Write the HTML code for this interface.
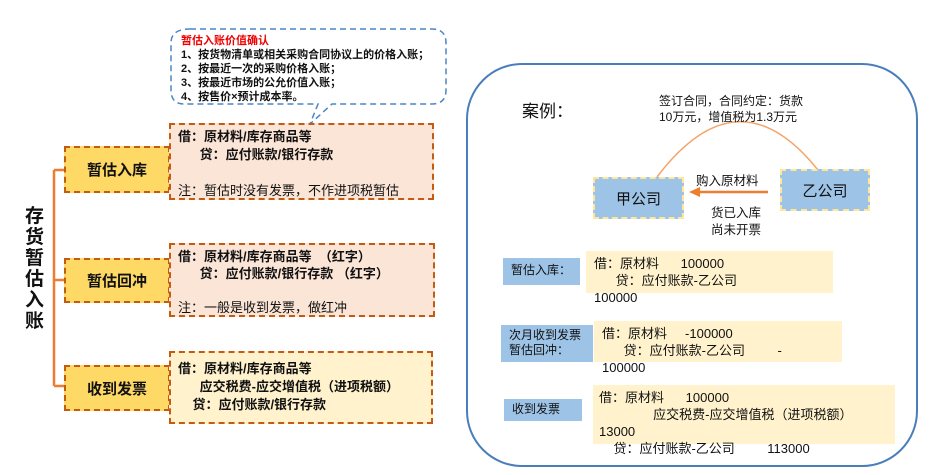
<!DOCTYPE html>
<html><head><meta charset="utf-8">
<style>
body{margin:0;width:935px;height:475px;background:#fff;position:relative;overflow:hidden;font-family:"Liberation Sans","Noto Sans CJK SC",sans-serif;color:#111}
.a{position:absolute;box-sizing:border-box}
.lb{background:#ffd966;border:2.5px dashed #c55a11;font-weight:bold;font-size:15px;display:flex;align-items:center;justify-content:center}
.rb{background:#fbe5d6;border:2.5px dashed #c55a11;font-size:13px;line-height:18px;padding:3px 0 0 7px;white-space:pre}
.t{position:absolute;white-space:pre}
.blue{background:#9dc3e6;font-size:12px;line-height:15px}
.y{background:#fff2cc}
.c{font-size:13px;line-height:17px}
</style></head><body>
<svg class="a" style="left:0;top:0" width="935" height="475">
<path d="M54 170 V386 M54 170 H65 M54 280 H65 M54 386 H65" stroke="#ed7d31" stroke-width="2.5" fill="none"/>
<path d="M190 29 H432 Q446 29 446 43 V90 Q446 104 432 104 H332 L310 124 L318 104 H184 Q171 104 171 90 V43 Q171 29 190 29 Z" fill="#fff" stroke="#4a86c5" stroke-width="1.5" stroke-dasharray="6,4"/>
<rect x="467" y="64" width="450" height="402" rx="55" fill="none" stroke="#4a7ebb" stroke-width="2"/>
<path d="M657 177 Q738 70 818 170" fill="none" stroke="#f4a46a" stroke-width="1.5"/>
<path d="M768 192 H698" stroke="#ed7d31" stroke-width="2.5"/>
<path d="M689 192 L700 187 L700 197 Z" fill="#ed7d31"/>
</svg>
<div class="t" style="left:181px;top:34px;font-size:11px;line-height:14px;font-weight:bold"><span style="color:#e00">暂估入账价值确认</span>
1、按货物清单或相关采购合同协议上的价格入账；
2、按最近一次的采购价格入账；
3、按最近市场的公允价值入账；
4、按售价×预计成本率。</div>
<div class="t" style="left:25px;top:206px;font-size:19px;line-height:21px;font-weight:bold">存
货
暂
估
入
账</div>
<div class="a lb" style="left:64px;top:146px;width:106px;height:47px">暂估入库</div>
<div class="a rb" style="left:169px;top:123px;width:265px;height:77px"><b>借：原材料/库存商品等
      贷：应付账款/银行存款</b>

注：暂估时没有发票，不作进项税暂估</div>
<div class="a lb" style="left:64px;top:258px;width:106px;height:45px">暂估回冲</div>
<div class="a rb" style="left:169px;top:243px;width:266px;height:74px;line-height:17px"><b>借：原材料/库存商品等  （红字）
      贷：应付账款/银行存款 （红字）</b>

注：一般是收到发票，做红冲</div>
<div class="a lb" style="left:64px;top:365px;width:106px;height:46px">收到发票</div>
<div class="a rb" style="left:169px;top:351px;width:264px;height:73px;background:#fff2cc;padding-top:7px"><b>借：原材料/库存商品等
      应交税费-应交增值税（进项税额）
    贷：应付账款/银行存款</b></div>

<div class="t" style="left:522px;top:97px;font-size:17px">案例：</div>
<div class="t" style="left:659px;top:93px;font-size:12px;line-height:16px">签订合同，合同约定：货款
10万元，增值税为1.3万元</div>
<div class="a" style="left:593px;top:177px;width:91px;height:42px;background:#9dc3e6;border:2px dashed #ffe699;font-size:15px;display:flex;align-items:center;justify-content:center">甲公司</div>
<div class="a" style="left:780px;top:169px;width:90px;height:42px;background:#9dc3e6;border:2px dashed #ffe699;font-size:15px;display:flex;align-items:center;justify-content:center">乙公司</div>
<div class="t" style="left:696px;top:170px;font-size:12.5px">购入原材料</div>
<div class="t" style="left:711px;top:205px;font-size:12.5px;line-height:17px">货已入库
尚未开票</div>

<div class="a blue" style="left:503px;top:258px;width:77px;height:27px;padding:5px 0 0 8px">暂估入库：</div>
<div class="a y" style="left:586px;top:251px;width:247px;height:42px"></div>
<div class="t c" style="left:594px;top:255px">借：原材料      100000
      贷：应付账款-乙公司
100000</div>

<div class="a blue" style="left:501px;top:325px;width:92px;height:37px;padding:3px 0 0 8px">次月收到发票
暂估回冲：</div>
<div class="a y" style="left:594px;top:321px;width:248px;height:41px"></div>
<div class="t c" style="left:602px;top:325px">借：原材料     -100000
      贷：应付账款-乙公司         -
100000</div>

<div class="a blue" style="left:504px;top:399px;width:78px;height:22px;padding:3px 0 0 8px">收到发票</div>
<div class="a y" style="left:593px;top:385px;width:302px;height:59px"></div>
<div class="t c" style="left:599px;top:389px">借：原材料      100000
               应交税费-应交增值税（进项税额）
13000
    贷：应付账款-乙公司         113000</div>
</body></html>
